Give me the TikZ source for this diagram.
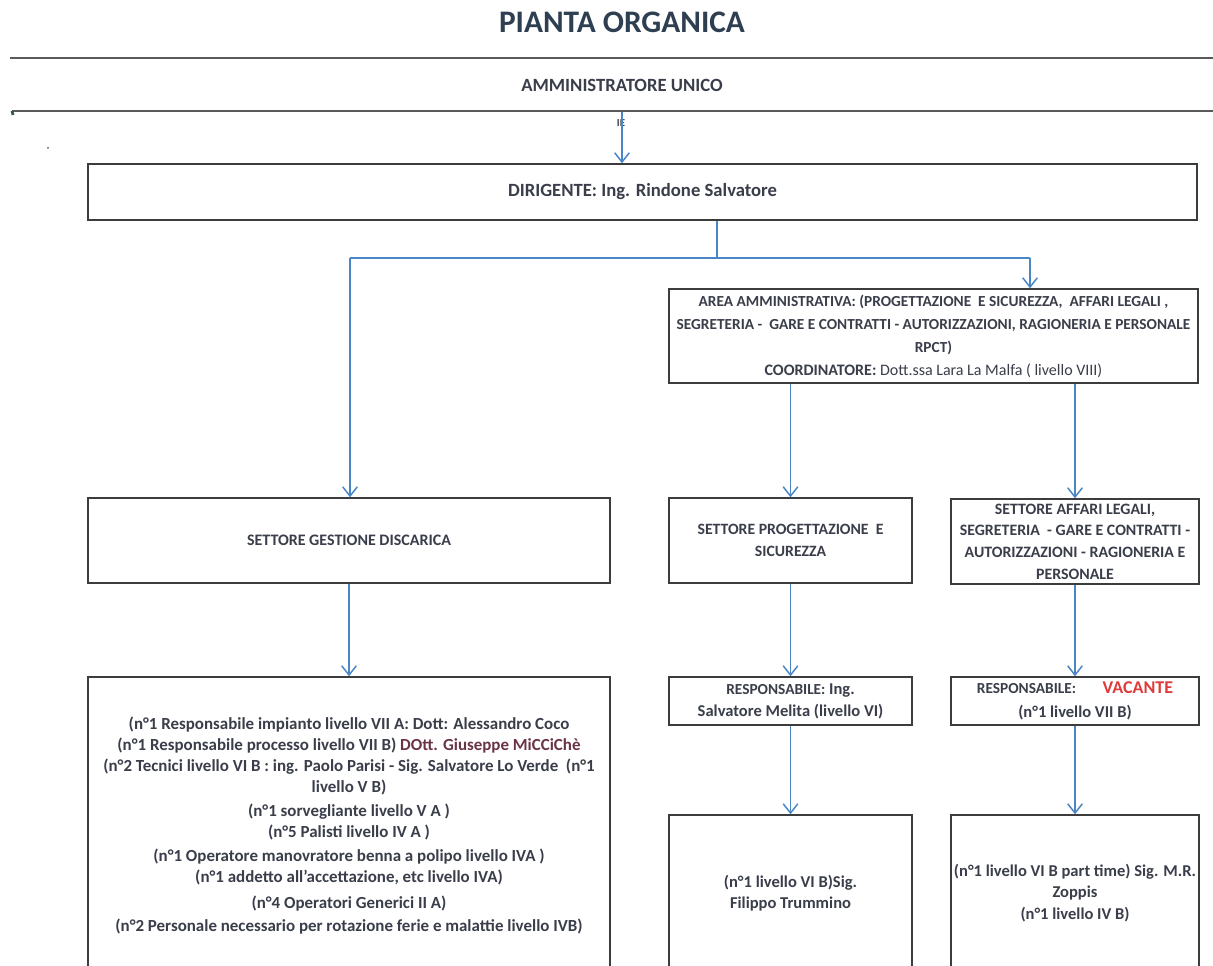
\documentclass[tikz,border=0pt]{standalone}
\usepackage{fontspec}
\setmainfont{Carlito}
\usetikzlibrary{arrows.meta}
\definecolor{txtc}{HTML}{3A3E4A}
\definecolor{titc}{HTML}{2F3F52}
\definecolor{boxc}{HTML}{3C3C3C}
\definecolor{rulec}{HTML}{5A5A5A}
\definecolor{arrc}{HTML}{4A86C5}
\definecolor{vac}{HTML}{E03A3A}
\definecolor{marc}{HTML}{6A3448}
\definecolor{tickc}{HTML}{2F5A48}
\tikzset{
  box/.style={draw=boxc, line width=1.1pt, rectangle, inner sep=0pt, align=center, text=txtc, font=\bfseries\fontsize{12.7}{15.75}\selectfont},
  capbox/.style={box, font=\bfseries\fontsize{12}{16}\selectfont},
  conn/.style={draw=arrc, line width=1.1pt},
  arr/.style={conn, -{Straight Barb[length=7pt,width=11pt,line width=1.1pt]}},
  rule/.style={draw=rulec, line width=1.6pt},
  lbl/.style={inner sep=0pt, align=center, text=txtc, font=\bfseries\fontsize{12}{15}\selectfont}
}
\begin{document}
\begin{tikzpicture}[x=0.75pt,y=-0.75pt]
\useasboundingbox (0,0) rectangle (1213,966);
\fill[white] (0,0) rectangle (1213,966);
% title
\node[inner sep=0pt, text=titc, font=\bfseries\fontsize{23.5}{26}\selectfont] (title) at (622,22) {PIANTA ORGANICA};
% rules
\coordinate (r1a) at (10,58);
\coordinate (r1b) at (1213,58);
\draw[rule] (r1a) -- (r1b);
\coordinate (r2a) at (12,111);
\coordinate (r2b) at (1213,111);
\draw[rule] (r2a) -- (r2b);
\coordinate (tk) at (13,115);
\draw[draw=tickc, line width=2pt] (r2a) -- (tk);
\node[lbl, font=\bfseries\fontsize{14}{16}\selectfont] (amm) at (622,85) {AMMINISTRATORE UNICO};
\node[inner sep=0pt, text=txtc, font=\bfseries\fontsize{8}{9}\selectfont] (ie) at (621,123) {IE};
\node[circle, fill=rulec, inner sep=0pt, minimum size=1.5pt] (dot) at (48,148) {};
% boxes
\node[box, minimum width=831.75pt, minimum height=42pt, font=\bfseries\fontsize{14}{16}\selectfont] (dir) at (642.5,192) {DIRIGENTE: Ing. Rindone Salvatore};
\node[capbox, minimum width=396.75pt, minimum height=70.5pt, font=\bfseries\fontsize{11.5}{17.25}\selectfont] (area) at (933.5,336) {AREA AMMINISTRATIVA: (PROGETTAZIONE\ \ E SICUREZZA,\ \ AFFARI LEGALI ,\\SEGRETERIA -\ \ GARE E CONTRATTI - AUTORIZZAZIONI, RAGIONERIA E PERSONALE\\RPCT)\\{\fontsize{12}{17.25}\selectfont COORDINATORE:\ {\mdseries Dott.ssa Lara La Malfa ( livello VIII)}}};
\node[capbox, minimum width=391.5pt, minimum height=63.75pt, font=\bfseries\fontsize{12}{16}\selectfont] (gest) at (349,540.5) {SETTORE GESTIONE DISCARICA};
\node[capbox, minimum width=182.25pt, minimum height=63.75pt, font=\bfseries\fontsize{11.8}{16.5}\selectfont] (prog) at (790.5,540.5) {SETTORE PROGETTAZIONE\ \ E\\SICUREZZA};
\node[capbox, minimum width=186pt, minimum height=63.75pt, font=\bfseries\fontsize{11.9}{16.3}\selectfont] (aff) at (1075,541.5) {SETTORE AFFARI LEGALI,\\SEGRETERIA\ \ - GARE E CONTRATTI -\\AUTORIZZAZIONI - RAGIONERIA E\\PERSONALE};
\node[box, minimum width=391.5pt, minimum height=223.5pt] (big) at (349,826) {%
(n°1 Responsabile impianto livello VII A:\ Dott: Alessandro Coco\\
(n°1 Responsabile processo livello VII B) {\color{marc}DOtt. Giuseppe MiCCiChè}\\
(n°2 Tecnici livello VI\ B :\ ing. Paolo Parisi - Sig. Salvatore Lo Verde\ \ (n°1\\
livello V B)\\[2.25pt]
(n°1 sorvegliante livello V A )\\
(n°5 Palisti livello IV A )\\[2.25pt]
(n°1 Operatore manovratore benna a polipo livello IVA )\\
(n°1 addetto all'accettazione, etc livello IVA)\\[3.75pt]
(n°4 Operatori Generici II A)\\[1.5pt]
(n°2 Personale necessario per rotazione ferie e malattie livello IVB)};
\node[box, minimum width=182.25pt, minimum height=36pt, font=\bfseries\fontsize{12.4}{16.5}\selectfont] (resp1) at (790.5,701) {{\fontsize{11.5}{16.5}\selectfont RESPONSABILE:}\ Ing.\\Salvatore Melita (livello VI)};
\node[box, minimum width=186pt, minimum height=36pt, font=\bfseries\fontsize{12.4}{18}\selectfont] (resp2) at (1075,701) {{\fontsize{11.5}{16.5}\selectfont RESPONSABILE:}\hspace{20pt}{\color{vac}\fontsize{13.5}{15}\selectfont VACANTE}\\(n°1 livello VII B)};
\node[box, minimum width=182.25pt, minimum height=117pt, font=\bfseries\fontsize{12.4}{15.5}\selectfont] (b1) at (790.5,893) {(n°1 livello VI B)Sig.\\Filippo Trummino};
\node[box, minimum width=186pt, minimum height=117pt, font=\bfseries\fontsize{12.4}{16}\selectfont] (b2) at (1075,893) {(n°1 livello VI B part time) Sig. M.R.\\Zoppis\\(n°1 livello IV B)};
% connectors
\coordinate (top) at (622,112);
\draw[arr] (top) -- (top |- dir.north);
\coordinate (j1) at (717,258);
\coordinate (jA) at (350,258);
\coordinate (jB) at (1030,258);
\draw[conn] (dir.south -| j1) -- (j1);
\draw[conn] (jA) -- (jB);
\draw[arr] (jA) -- (jA |- gest.north);
\draw[arr] (jB) -- (jB |- area.north);
\draw[arr] (area.south -| prog.north) -- (prog.north);
\draw[arr] (area.south -| aff.north) -- (aff.north);
\draw[arr] (gest.south) -- (big.north);
\draw[arr] (prog.south) -- (resp1.north);
\draw[arr] (aff.south) -- (resp2.north);
\draw[arr] (resp1.south) -- (b1.north);
\draw[arr] (resp2.south) -- (b2.north);
\end{tikzpicture}
\end{document}
